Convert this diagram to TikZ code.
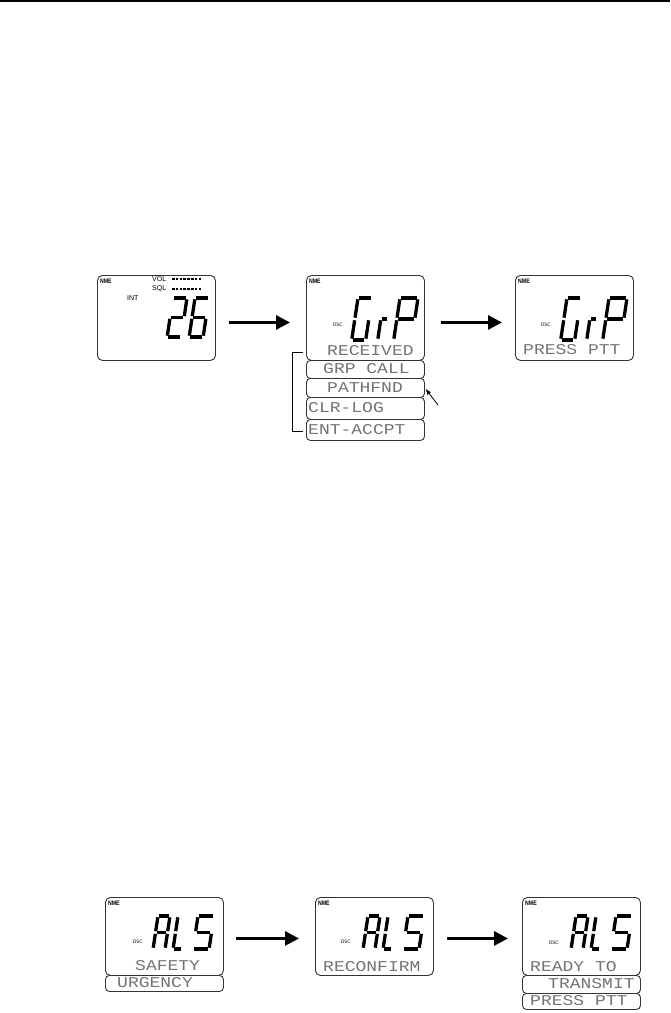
\documentclass[tikz,border=0pt]{standalone}
\usepackage{fontspec}
\usetikzlibrary{arrows.meta}
\newfontfamily\lcdfont{Liberation Mono}
\newfontfamily\lblfont{Liberation Sans}
\def\dgap{1.3}
\newcommand\segA{\draw[segm] (\dgap,0)--(\dW-\dgap,0);}
\newcommand\segB{\draw[segm] (\dW,\dgap)--(\dW,\dH/2-\dgap);}
\newcommand\segC{\draw[segm] (\dW,\dH/2+\dgap)--(\dW,\dH-\dgap);}
\newcommand\segD{\draw[segm] (\dgap,\dH)--(\dW-\dgap,\dH);}
\newcommand\segE{\draw[segm] (0,\dH/2+\dgap)--(0,\dH-\dgap);}
\newcommand\segF{\draw[segm] (0,\dgap)--(0,\dH/2-\dgap);}
\newcommand\segG{\draw[segm] (\dgap,\dH/2)--(\dW-\dgap,\dH/2);}
\newcommand\sevdig[5]{\begin{scope}[shift={(#1,#2)},xslant=0.15]\def\dW{#3}\def\dH{#4}#5\end{scope}}
\tikzset{
  screen/.style={draw=black!80, line width=0.9pt, rounded corners=5pt, anchor=north west, inner sep=0pt, minimum width=118pt},
  subbox/.style={draw=black!80, line width=0.9pt, rounded corners=4pt, anchor=north west, inner sep=0pt, minimum width=118pt},
  lcd/.style={font=\lcdfont\fontsize{15}{15}\selectfont, text=black!55, xscale=1.2, anchor=west, inner sep=0pt},
  nme/.style={font=\lblfont\bfseries\fontsize{6.5}{6.5}\selectfont, xscale=0.8, anchor=west, inner sep=0pt},
  dsc/.style={font=\lblfont\fontsize{5}{5}\selectfont, xscale=0.9, anchor=west, inner sep=0pt},
  small/.style={font=\lblfont\fontsize{7}{7}\selectfont, anchor=west, inner sep=0pt},
  bigarrow/.style={line width=3pt, -{Triangle[length=14pt,width=14pt]}},
  segm/.style={line width=3.3pt, line cap=butt},
  bar/.style={line width=2.4pt, dash pattern=on 2.6pt off 1.2pt},
}
\begin{document}
\begin{tikzpicture}[x=1pt,y=-1pt]
\useasboundingbox (0,0) rectangle (670,1013);
\draw[line width=1.6pt] (0,0.8)--(670,0.8);

% ---------- top row ----------
\node[screen, minimum height=85pt] (s1) at (97,275) {};
\node[nme] (n1) at (100,281) {NME};
\node[small] (vol) at (152,279) {VOL};
\node[small] (sql) at (152,289) {SQL};
\node[small] (int) at (127,298) {INT};
\draw[bar] (172,279)--(201,279);
\draw[bar] (172,289)--(202,289);
\sevdig{173}{298}{14}{39}{\segA\segB\segG\segE\segD}
\sevdig{195}{298}{14}{39}{\segA\segF\segG\segE\segD\segC}

\node[screen, minimum height=85pt] (s2) at (306,275) {};
\node[subbox, minimum height=18pt] (b1) at (306,360) {};
\node[subbox, minimum height=19pt] (b2) at (306,378) {};
\node[subbox, minimum height=22pt] (b3) at (306,397) {};
\node[subbox, minimum height=21pt] (b4) at (306,419) {};
\node[nme] (n2) at (309,281) {NME};
\node[dsc] (d2) at (333,325) {DSC};
\sevdig{358}{298}{14}{42}{\segA\segF\segE\segD\segC}
\sevdig{384}{298}{7}{42}{\segG\segE}
\sevdig{400}{298}{18}{42}{\segA\segB\segF\segG\segE}
\node[lcd] (t1) at (327,351) {RECEIVED};
\node[lcd] (t2) at (323,369) {GRP CALL};
\node[lcd] (t3) at (327,387.5) {PATHFND};
\node[lcd] (t4) at (308,408) {CLR-LOG};
\node[lcd] (t5) at (308,429.5) {ENT-ACCPT};
\draw[line width=0.9pt] (303,352)--(292,352)--(292,431)--(303,431);
\coordinate (ptail) at (438,405);
\draw[line width=0.8pt, -{Latex[length=6pt,width=4.5pt]}, shorten >=1pt] (ptail) -- (b2.east);

\node[screen, minimum height=85pt] (s3) at (515,275) {};
\node[nme] (n3) at (518,281) {NME};
\node[dsc] (d3) at (541,325) {DSC};
\sevdig{567}{298}{14}{42}{\segA\segF\segE\segD\segC}
\sevdig{593}{298}{7}{42}{\segG\segE}
\sevdig{609}{298}{18}{42}{\segA\segB\segF\segG\segE}
\node[lcd] (t6) at (523,350) {PRESS PTT};

\draw[bigarrow, shorten <=13pt, shorten >=16pt] ([yshift=-4.5pt]s1.east) -- ([yshift=-4.5pt]s2.west);
\draw[bigarrow, shorten <=16pt, shorten >=13pt] ([yshift=-4.5pt]s2.east) -- ([yshift=-4.5pt]s3.west);

% ---------- bottom row ----------
\node[screen, minimum height=78pt] (sa) at (105,897) {};
\node[subbox, minimum height=16pt] (ua) at (105,975) {};
\node[nme] (na) at (108,903) {NME};
\node[dsc] (da) at (133,942) {DSC};
\sevdig{158}{916}{12}{33}{\segA\segB\segC\segE\segF\segG}
\sevdig{178}{916}{9}{33}{\segF\segE\segD}
\sevdig{198}{916}{16}{33}{\segA\segF\segG\segC\segD}
\node[lcd] (ta) at (135,966) {SAFETY};
\node[lcd] (tu) at (117,983) {URGENCY};

\node[screen, minimum height=78pt] (sb) at (315,897) {};
\node[nme] (nb) at (318,903) {NME};
\node[dsc] (db) at (341,942) {DSC};
\sevdig{368}{916}{12}{33}{\segA\segB\segC\segE\segF\segG}
\sevdig{388}{916}{9}{33}{\segF\segE\segD}
\sevdig{408}{916}{16}{33}{\segA\segF\segG\segC\segD}
\node[lcd] (tb) at (323,967) {RECONFIRM};

\node[screen, minimum height=78pt] (sc) at (522,897) {};
\node[subbox, minimum height=18pt] (uc1) at (522,975) {};
\node[subbox, minimum height=16pt] (uc2) at (522,993) {};
\node[nme] (nc) at (525,903) {NME};
\node[dsc] (dc) at (549,943) {DSC};
\sevdig{576}{916}{12}{33}{\segA\segB\segC\segE\segF\segG}
\sevdig{596}{916}{9}{33}{\segF\segE\segD}
\sevdig{616}{916}{16}{33}{\segA\segF\segG\segC\segD}
\node[lcd] (tc) at (530,967) {READY TO};
\node[lcd] (tc2) at (548,984) {TRANSMIT};
\node[lcd] (tc3) at (530,1001) {PRESS PTT};

\draw[bigarrow, shorten <=12pt, shorten >=16pt] ([yshift=-2pt]sa.east) -- ([yshift=-2pt]sb.west);
\draw[bigarrow, shorten <=13pt, shorten >=14pt] ([yshift=-2pt]sb.east) -- ([yshift=-2pt]sc.west);
\end{tikzpicture}
\end{document}
